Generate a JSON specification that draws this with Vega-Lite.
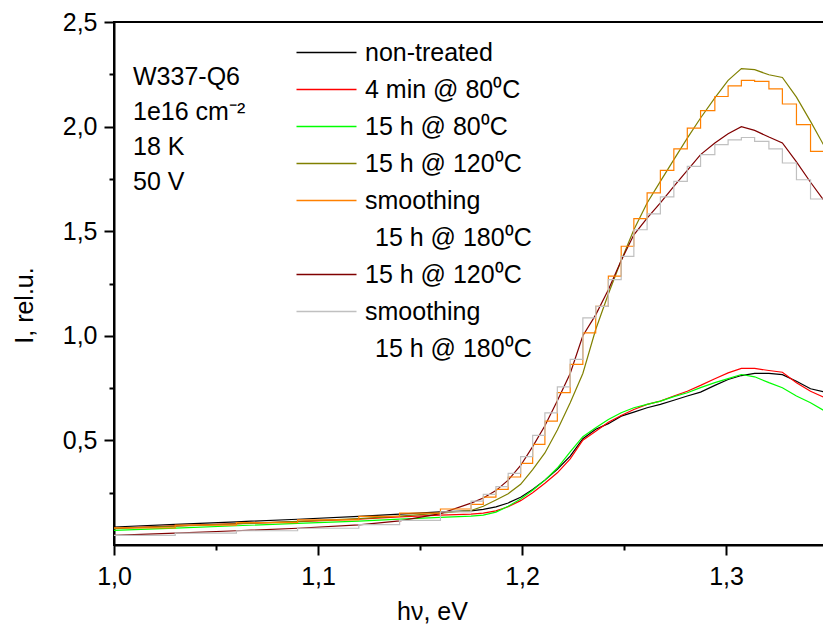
{
  "$schema": "https://vega.github.io/schema/vega-lite/v6.json",
  "autosize": "none",
  "padding": {"left": 114, "top": 22, "right": 0, "bottom": 79},
  "width": 710,
  "height": 523,
  "config": {
    "font": "Liberation Sans",
    "view": {"stroke": "black", "strokeWidth": 2},
    "axis": {"grid": false, "domainColor": "black", "domainWidth": 2, "tickColor": "black", "tickWidth": 2, "labelColor": "black", "titleColor": "black", "labelFont": "Liberation Sans", "titleFont": "Liberation Sans", "labelFontSize": 25, "titleFontSize": 25, "titleFontWeight": "normal", "labelOverlap": false, "labelFlush": false}
  },
  "title": {
    "text": ["W337-Q6", "1e16 cm\u207b\u00b2", "18 K", "50 V"],
    "orient": "top", "anchor": "start", "frame": "group",
    "font": "Liberation Sans", "fontSize": 25, "fontWeight": "normal", "color": "black",
    "lineHeight": 35, "baseline": "top", "dx": 19, "dy": 189
  },
  "data": {"values": [
    {"s":"non-treated","x":1.0,"y":0.086},{"s":"non-treated","x":1.03,"y":0.099},{"s":"non-treated","x":1.06,"y":0.111},{"s":"non-treated","x":1.09,"y":0.123},{"s":"non-treated","x":1.12,"y":0.137},{"s":"non-treated","x":1.14,"y":0.148},{"s":"non-treated","x":1.16,"y":0.158},
    {"s":"non-treated","x":1.175,"y":0.163},{"s":"non-treated","x":1.181,"y":0.170},{"s":"non-treated","x":1.1872,"y":0.182},{"s":"non-treated","x":1.1932,"y":0.201},{"s":"non-treated","x":1.1993,"y":0.228},{"s":"non-treated","x":1.2052,"y":0.265},{"s":"non-treated","x":1.2112,"y":0.310},{"s":"non-treated","x":1.2173,"y":0.362},{"s":"non-treated","x":1.2236,"y":0.425},{"s":"non-treated","x":1.2298,"y":0.508},{"s":"non-treated","x":1.2361,"y":0.553},{"s":"non-treated","x":1.2423,"y":0.580},{"s":"non-treated","x":1.2486,"y":0.616},{"s":"non-treated","x":1.2548,"y":0.635},{"s":"non-treated","x":1.2613,"y":0.656},{"s":"non-treated","x":1.2678,"y":0.672},{"s":"non-treated","x":1.2744,"y":0.692},{"s":"non-treated","x":1.281,"y":0.712},{"s":"non-treated","x":1.2875,"y":0.731},{"s":"non-treated","x":1.2945,"y":0.763},{"s":"non-treated","x":1.301,"y":0.791},{"s":"non-treated","x":1.3075,"y":0.810},{"s":"non-treated","x":1.314,"y":0.820},{"s":"non-treated","x":1.321,"y":0.820},{"s":"non-treated","x":1.3276,"y":0.814},{"s":"non-treated","x":1.3345,"y":0.783},{"s":"non-treated","x":1.3414,"y":0.747},{"s":"non-treated","x":1.3485,"y":0.731},

    {"s":"4 min @ 80\u2070C","x":1.0,"y":0.080},{"s":"4 min @ 80\u2070C","x":1.03,"y":0.091},{"s":"4 min @ 80\u2070C","x":1.06,"y":0.102},{"s":"4 min @ 80\u2070C","x":1.09,"y":0.112},{"s":"4 min @ 80\u2070C","x":1.12,"y":0.124},{"s":"4 min @ 80\u2070C","x":1.14,"y":0.134},{"s":"4 min @ 80\u2070C","x":1.16,"y":0.143},
    {"s":"4 min @ 80\u2070C","x":1.175,"y":0.148},{"s":"4 min @ 80\u2070C","x":1.181,"y":0.152},{"s":"4 min @ 80\u2070C","x":1.1872,"y":0.163},{"s":"4 min @ 80\u2070C","x":1.1932,"y":0.183},{"s":"4 min @ 80\u2070C","x":1.1993,"y":0.212},{"s":"4 min @ 80\u2070C","x":1.2052,"y":0.250},{"s":"4 min @ 80\u2070C","x":1.2112,"y":0.295},{"s":"4 min @ 80\u2070C","x":1.2173,"y":0.345},{"s":"4 min @ 80\u2070C","x":1.2236,"y":0.412},{"s":"4 min @ 80\u2070C","x":1.2298,"y":0.501},{"s":"4 min @ 80\u2070C","x":1.2361,"y":0.544},{"s":"4 min @ 80\u2070C","x":1.2423,"y":0.587},{"s":"4 min @ 80\u2070C","x":1.2486,"y":0.619},{"s":"4 min @ 80\u2070C","x":1.2548,"y":0.648},{"s":"4 min @ 80\u2070C","x":1.2613,"y":0.672},{"s":"4 min @ 80\u2070C","x":1.2678,"y":0.688},{"s":"4 min @ 80\u2070C","x":1.2744,"y":0.712},{"s":"4 min @ 80\u2070C","x":1.281,"y":0.735},{"s":"4 min @ 80\u2070C","x":1.2875,"y":0.763},{"s":"4 min @ 80\u2070C","x":1.2945,"y":0.795},{"s":"4 min @ 80\u2070C","x":1.301,"y":0.823},{"s":"4 min @ 80\u2070C","x":1.3075,"y":0.844},{"s":"4 min @ 80\u2070C","x":1.314,"y":0.844},{"s":"4 min @ 80\u2070C","x":1.321,"y":0.834},{"s":"4 min @ 80\u2070C","x":1.3276,"y":0.826},{"s":"4 min @ 80\u2070C","x":1.3345,"y":0.776},{"s":"4 min @ 80\u2070C","x":1.3414,"y":0.735},{"s":"4 min @ 80\u2070C","x":1.3485,"y":0.704},

    {"s":"15 h @ 80\u2070C","x":1.0,"y":0.070},{"s":"15 h @ 80\u2070C","x":1.03,"y":0.081},{"s":"15 h @ 80\u2070C","x":1.06,"y":0.092},{"s":"15 h @ 80\u2070C","x":1.09,"y":0.103},{"s":"15 h @ 80\u2070C","x":1.12,"y":0.114},{"s":"15 h @ 80\u2070C","x":1.14,"y":0.124},{"s":"15 h @ 80\u2070C","x":1.16,"y":0.132},
    {"s":"15 h @ 80\u2070C","x":1.175,"y":0.138},{"s":"15 h @ 80\u2070C","x":1.181,"y":0.143},{"s":"15 h @ 80\u2070C","x":1.1872,"y":0.157},{"s":"15 h @ 80\u2070C","x":1.1932,"y":0.185},{"s":"15 h @ 80\u2070C","x":1.1993,"y":0.220},{"s":"15 h @ 80\u2070C","x":1.2052,"y":0.262},{"s":"15 h @ 80\u2070C","x":1.2112,"y":0.310},{"s":"15 h @ 80\u2070C","x":1.2173,"y":0.368},{"s":"15 h @ 80\u2070C","x":1.2236,"y":0.445},{"s":"15 h @ 80\u2070C","x":1.2298,"y":0.518},{"s":"15 h @ 80\u2070C","x":1.2361,"y":0.561},{"s":"15 h @ 80\u2070C","x":1.2423,"y":0.600},{"s":"15 h @ 80\u2070C","x":1.2486,"y":0.632},{"s":"15 h @ 80\u2070C","x":1.2548,"y":0.656},{"s":"15 h @ 80\u2070C","x":1.2613,"y":0.672},{"s":"15 h @ 80\u2070C","x":1.2678,"y":0.688},{"s":"15 h @ 80\u2070C","x":1.2744,"y":0.709},{"s":"15 h @ 80\u2070C","x":1.281,"y":0.728},{"s":"15 h @ 80\u2070C","x":1.2875,"y":0.752},{"s":"15 h @ 80\u2070C","x":1.2945,"y":0.776},{"s":"15 h @ 80\u2070C","x":1.301,"y":0.795},{"s":"15 h @ 80\u2070C","x":1.3075,"y":0.815},{"s":"15 h @ 80\u2070C","x":1.314,"y":0.804},{"s":"15 h @ 80\u2070C","x":1.321,"y":0.776},{"s":"15 h @ 80\u2070C","x":1.3276,"y":0.752},{"s":"15 h @ 80\u2070C","x":1.3345,"y":0.712},{"s":"15 h @ 80\u2070C","x":1.3414,"y":0.680},{"s":"15 h @ 80\u2070C","x":1.3485,"y":0.640},

    {"s":"15 h @ 120\u2070C","x":1.0,"y":0.078},{"s":"15 h @ 120\u2070C","x":1.03,"y":0.090},{"s":"15 h @ 120\u2070C","x":1.06,"y":0.101},{"s":"15 h @ 120\u2070C","x":1.09,"y":0.113},{"s":"15 h @ 120\u2070C","x":1.12,"y":0.126},{"s":"15 h @ 120\u2070C","x":1.14,"y":0.138},{"s":"15 h @ 120\u2070C","x":1.16,"y":0.152},
    {"s":"15 h @ 120\u2070C","x":1.175,"y":0.165},{"s":"15 h @ 120\u2070C","x":1.181,"y":0.185},{"s":"15 h @ 120\u2070C","x":1.1872,"y":0.215},{"s":"15 h @ 120\u2070C","x":1.1932,"y":0.245},{"s":"15 h @ 120\u2070C","x":1.1993,"y":0.290},{"s":"15 h @ 120\u2070C","x":1.2052,"y":0.360},{"s":"15 h @ 120\u2070C","x":1.2112,"y":0.440},{"s":"15 h @ 120\u2070C","x":1.2173,"y":0.550},{"s":"15 h @ 120\u2070C","x":1.2236,"y":0.680},{"s":"15 h @ 120\u2070C","x":1.2298,"y":0.820},{"s":"15 h @ 120\u2070C","x":1.2361,"y":1.030},{"s":"15 h @ 120\u2070C","x":1.2423,"y":1.200},{"s":"15 h @ 120\u2070C","x":1.2486,"y":1.360},{"s":"15 h @ 120\u2070C","x":1.2548,"y":1.507},{"s":"15 h @ 120\u2070C","x":1.2613,"y":1.635},{"s":"15 h @ 120\u2070C","x":1.2678,"y":1.738},{"s":"15 h @ 120\u2070C","x":1.2744,"y":1.842},{"s":"15 h @ 120\u2070C","x":1.281,"y":1.945},{"s":"15 h @ 120\u2070C","x":1.2875,"y":2.041},{"s":"15 h @ 120\u2070C","x":1.2945,"y":2.137},{"s":"15 h @ 120\u2070C","x":1.301,"y":2.221},{"s":"15 h @ 120\u2070C","x":1.3075,"y":2.277},{"s":"15 h @ 120\u2070C","x":1.314,"y":2.272},{"s":"15 h @ 120\u2070C","x":1.321,"y":2.248},{"s":"15 h @ 120\u2070C","x":1.3276,"y":2.235},{"s":"15 h @ 120\u2070C","x":1.3345,"y":2.141},{"s":"15 h @ 120\u2070C","x":1.3414,"y":2.025},{"s":"15 h @ 120\u2070C","x":1.3485,"y":1.900},

    {"s":"smoothing #1","x":1.0,"y":0.082},{"s":"smoothing #1","x":1.03,"y":0.095},{"s":"smoothing #1","x":1.06,"y":0.107},{"s":"smoothing #1","x":1.09,"y":0.120},{"s":"smoothing #1","x":1.12,"y":0.137},{"s":"smoothing #1","x":1.14,"y":0.152},{"s":"smoothing #1","x":1.16,"y":0.172},
    {"s":"smoothing #1","x":1.175,"y":0.194},{"s":"smoothing #1","x":1.181,"y":0.229},{"s":"smoothing #1","x":1.1872,"y":0.266},{"s":"smoothing #1","x":1.1932,"y":0.325},{"s":"smoothing #1","x":1.1993,"y":0.390},{"s":"smoothing #1","x":1.2052,"y":0.481},{"s":"smoothing #1","x":1.2112,"y":0.592},{"s":"smoothing #1","x":1.2173,"y":0.728},{"s":"smoothing #1","x":1.2236,"y":0.863},{"s":"smoothing #1","x":1.2298,"y":1.014},{"s":"smoothing #1","x":1.2361,"y":1.141},{"s":"smoothing #1","x":1.2423,"y":1.285},{"s":"smoothing #1","x":1.2486,"y":1.428},{"s":"smoothing #1","x":1.2548,"y":1.560},{"s":"smoothing #1","x":1.2613,"y":1.683},{"s":"smoothing #1","x":1.2678,"y":1.791},{"s":"smoothing #1","x":1.2744,"y":1.894},{"s":"smoothing #1","x":1.281,"y":1.993},{"s":"smoothing #1","x":1.2875,"y":2.076},{"s":"smoothing #1","x":1.2945,"y":2.144},{"s":"smoothing #1","x":1.301,"y":2.195},{"s":"smoothing #1","x":1.3075,"y":2.221},{"s":"smoothing #1","x":1.314,"y":2.216},{"s":"smoothing #1","x":1.321,"y":2.180},{"s":"smoothing #1","x":1.3276,"y":2.108},{"s":"smoothing #1","x":1.3345,"y":2.009},{"s":"smoothing #1","x":1.3414,"y":1.882},{"s":"smoothing #1","x":1.3485,"y":1.860},

    {"s":"15 h @ 120\u2070C #2","x":1.0,"y":0.046},{"s":"15 h @ 120\u2070C #2","x":1.03,"y":0.057},{"s":"15 h @ 120\u2070C #2","x":1.06,"y":0.068},{"s":"15 h @ 120\u2070C #2","x":1.09,"y":0.080},{"s":"15 h @ 120\u2070C #2","x":1.12,"y":0.096},{"s":"15 h @ 120\u2070C #2","x":1.14,"y":0.115},{"s":"15 h @ 120\u2070C #2","x":1.16,"y":0.150},
    {"s":"15 h @ 120\u2070C #2","x":1.175,"y":0.200},{"s":"15 h @ 120\u2070C #2","x":1.181,"y":0.225},{"s":"15 h @ 120\u2070C #2","x":1.1872,"y":0.260},{"s":"15 h @ 120\u2070C #2","x":1.1932,"y":0.310},{"s":"15 h @ 120\u2070C #2","x":1.1993,"y":0.380},{"s":"15 h @ 120\u2070C #2","x":1.2052,"y":0.470},{"s":"15 h @ 120\u2070C #2","x":1.2112,"y":0.570},{"s":"15 h @ 120\u2070C #2","x":1.2173,"y":0.690},{"s":"15 h @ 120\u2070C #2","x":1.2236,"y":0.820},{"s":"15 h @ 120\u2070C #2","x":1.2298,"y":1.000},{"s":"15 h @ 120\u2070C #2","x":1.2361,"y":1.100},{"s":"15 h @ 120\u2070C #2","x":1.2423,"y":1.220},{"s":"15 h @ 120\u2070C #2","x":1.2486,"y":1.360},{"s":"15 h @ 120\u2070C #2","x":1.2548,"y":1.483},{"s":"15 h @ 120\u2070C #2","x":1.2613,"y":1.563},{"s":"15 h @ 120\u2070C #2","x":1.2678,"y":1.635},{"s":"15 h @ 120\u2070C #2","x":1.2744,"y":1.714},{"s":"15 h @ 120\u2070C #2","x":1.281,"y":1.791},{"s":"15 h @ 120\u2070C #2","x":1.2875,"y":1.866},{"s":"15 h @ 120\u2070C #2","x":1.2945,"y":1.922},{"s":"15 h @ 120\u2070C #2","x":1.301,"y":1.966},{"s":"15 h @ 120\u2070C #2","x":1.3075,"y":2.000},{"s":"15 h @ 120\u2070C #2","x":1.314,"y":1.982},{"s":"15 h @ 120\u2070C #2","x":1.321,"y":1.950},{"s":"15 h @ 120\u2070C #2","x":1.3276,"y":1.922},{"s":"15 h @ 120\u2070C #2","x":1.3345,"y":1.831},{"s":"15 h @ 120\u2070C #2","x":1.3414,"y":1.734},{"s":"15 h @ 120\u2070C #2","x":1.3485,"y":1.640},

    {"s":"smoothing #2","x":1.0,"y":0.046},{"s":"smoothing #2","x":1.03,"y":0.057},{"s":"smoothing #2","x":1.06,"y":0.068},{"s":"smoothing #2","x":1.09,"y":0.080},{"s":"smoothing #2","x":1.12,"y":0.097},{"s":"smoothing #2","x":1.14,"y":0.118},{"s":"smoothing #2","x":1.16,"y":0.158},
    {"s":"smoothing #2","x":1.175,"y":0.210},{"s":"smoothing #2","x":1.181,"y":0.242},{"s":"smoothing #2","x":1.1872,"y":0.279},{"s":"smoothing #2","x":1.1932,"y":0.342},{"s":"smoothing #2","x":1.1993,"y":0.422},{"s":"smoothing #2","x":1.2052,"y":0.524},{"s":"smoothing #2","x":1.2112,"y":0.632},{"s":"smoothing #2","x":1.2173,"y":0.756},{"s":"smoothing #2","x":1.2236,"y":0.887},{"s":"smoothing #2","x":1.2298,"y":1.086},{"s":"smoothing #2","x":1.2361,"y":1.141},{"s":"smoothing #2","x":1.2423,"y":1.269},{"s":"smoothing #2","x":1.2486,"y":1.380},{"s":"smoothing #2","x":1.2548,"y":1.507},{"s":"smoothing #2","x":1.2613,"y":1.583},{"s":"smoothing #2","x":1.2678,"y":1.664},{"s":"smoothing #2","x":1.2744,"y":1.738},{"s":"smoothing #2","x":1.281,"y":1.810},{"s":"smoothing #2","x":1.2875,"y":1.866},{"s":"smoothing #2","x":1.2945,"y":1.914},{"s":"smoothing #2","x":1.301,"y":1.937},{"s":"smoothing #2","x":1.3075,"y":1.948},{"s":"smoothing #2","x":1.314,"y":1.929},{"s":"smoothing #2","x":1.321,"y":1.894},{"s":"smoothing #2","x":1.3276,"y":1.826},{"s":"smoothing #2","x":1.3345,"y":1.746},{"s":"smoothing #2","x":1.3414,"y":1.654},{"s":"smoothing #2","x":1.3485,"y":1.620}
  ]},
  "encoding": {
    "x": {"field": "x", "type": "quantitative",
      "scale": {"domain": [1.0, 1.348], "nice": false, "zero": false},
      "axis": {"title": "h\u03bd, eV", "values": [1.0, 1.05, 1.1, 1.15, 1.2, 1.25, 1.3],
        "tickSize": {"condition": {"test": "abs(datum.value*10 - round(datum.value*10)) < 0.001", "value": 10}, "value": 5},
        "labelExpr": "abs(datum.value*10 - round(datum.value*10)) < 0.001 ? replace(format(datum.value, '.1f'), '.', ',') : ''",
        "labelPadding": 9, "titleX": 318, "titleY": 74, "titleBaseline": "alphabetic", "titleAlign": "center"}},
    "y": {"field": "y", "type": "quantitative",
      "scale": {"domain": [0, 2.5], "nice": false},
      "axis": {"title": "I, rel.u.", "values": [0.25, 0.5, 0.75, 1.0, 1.25, 1.5, 1.75, 2.0, 2.25, 2.5],
        "tickSize": {"condition": {"test": "abs(datum.value*2 - round(datum.value*2)) < 0.001", "value": 10}, "value": 5},
        "labelExpr": "abs(datum.value*2 - round(datum.value*2)) < 0.001 ? replace(format(datum.value, '.1f'), '.', ',') : ''",
        "labelPadding": 7, "titleX": -82, "titleY": 283, "titleAngle": -90, "titleBaseline": "alphabetic", "titleAlign": "center"}},
    "color": {"field": "s", "type": "nominal",
      "scale": {
        "domain": ["non-treated", "4 min @ 80\u2070C", "15 h @ 80\u2070C", "15 h @ 120\u2070C", "smoothing #1", "15 h @ 180\u2070C #1", "15 h @ 120\u2070C #2", "smoothing #2", "15 h @ 180\u2070C #2"],
        "range": ["#000000", "#ff0000", "#00ff00", "#808000", "#ff8000", "rgba(0,0,0,0)", "#800000", "#c0c0c0", "rgba(0,0,0,0)"]},
      "legend": {"title": null, "orient": "none", "legendX": 200, "legendY": 18, "padding": 0,
        "symbolType": "M-3,0H3", "symbolSize": 400, "symbolStrokeWidth": 1.5, "symbolOpacity": 1, "labelOffset": 26,
        "labelFont": "Liberation Sans", "labelFontSize": 25, "labelColor": "black", "labelLimit": 400, "rowPadding": 11,
        "labelExpr": "indexof(datum.label, ' #') >= 0 ? substring(datum.label, 0, indexof(datum.label, ' #')) : datum.label",
        "encode": {"labels": {"update": {"dx": {"signal": "indexof(datum.value, '180') >= 0 ? 10 : 0"}}}}}}
  },
  "layer": [
    {"transform": [{"filter": {"not": {"field": "s", "oneOf": ["smoothing #1", "smoothing #2"]}}}],
     "mark": {"type": "line", "strokeWidth": 1.2, "clip": true}},
    {"transform": [{"filter": {"field": "s", "oneOf": ["smoothing #1", "smoothing #2"]}}],
     "mark": {"type": "line", "strokeWidth": 1.2, "clip": true, "interpolate": "step-after"}}
  ]
}
